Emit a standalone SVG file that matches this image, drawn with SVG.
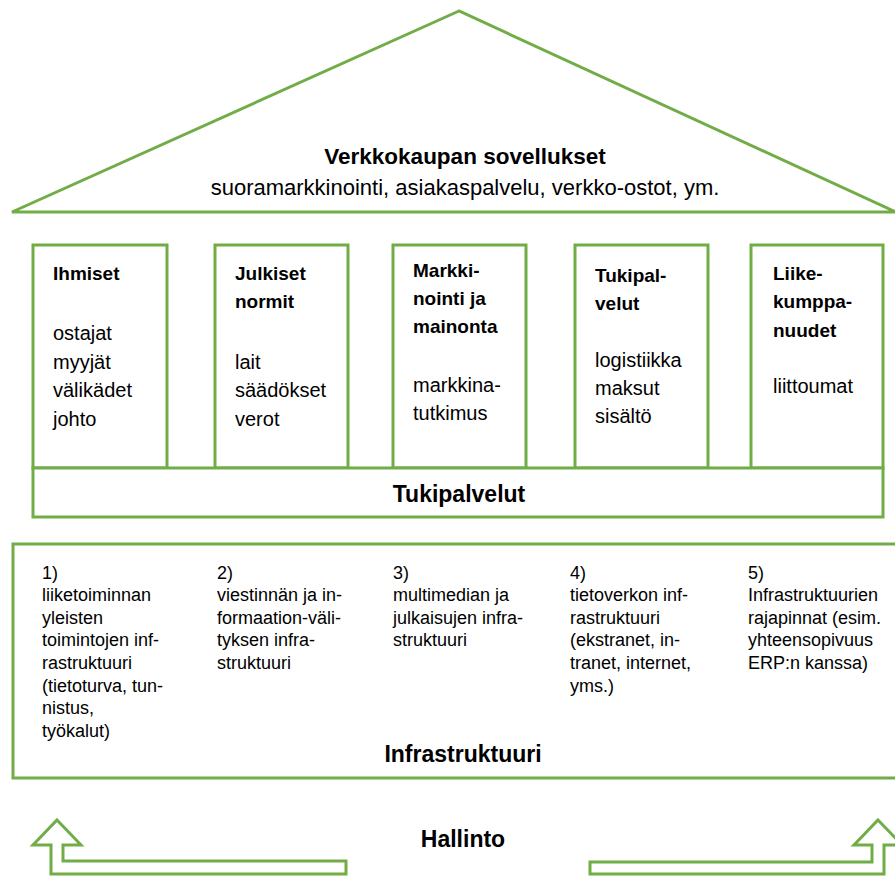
<svg xmlns="http://www.w3.org/2000/svg" width="895" height="876" viewBox="0 0 895 876">
  <style>
    .shape { fill: #ffffff; stroke: #70ad47; stroke-width: 3; stroke-linejoin: miter; }
    .t { font-family: "Liberation Sans", Arial, sans-serif; fill: #000000; }
    .title { font-size: 22.5px; font-weight: bold; }
    .sub { font-size: 22px; }
    .head { font-size: 19px; font-weight: bold; }
    .body { font-size: 20px; }
    .big { font-size: 23px; font-weight: bold; }
    .infra { font-size: 18px; }
  </style>
  <rect width="895" height="876" fill="#ffffff"/>

  <g id="roof">
    <polygon class="shape" points="459,11 12,212 896,212"/>
    <text class="t title" x="465" y="164" text-anchor="middle">Verkkokaupan sovellukset</text>
    <text class="t sub" x="465" y="195" text-anchor="middle">suoramarkkinointi, asiakaspalvelu, verkko-ostot, ym.</text>
  </g>

  <g id="ihmiset">
    <rect class="shape" x="33" y="245" width="134" height="223"/>
    <text class="t head" x="53" y="280">Ihmiset</text>
    <text class="t body" x="53" y="340">ostajat</text>
    <text class="t body" x="53" y="368.5">myyjät</text>
    <text class="t body" x="53" y="397">välikädet</text>
    <text class="t body" x="53" y="425.5">johto</text>
  </g>

  <g id="julkiset-normit">
    <rect class="shape" x="215" y="245" width="133" height="223"/>
    <text class="t head" x="235" y="280">Julkiset</text>
    <text class="t head" x="235" y="308">normit</text>
    <text class="t body" x="235" y="368.5">lait</text>
    <text class="t body" x="235" y="397">säädökset</text>
    <text class="t body" x="235" y="425.5">verot</text>
  </g>

  <g id="markkinointi">
    <rect class="shape" x="393" y="245" width="133" height="223"/>
    <text class="t head" x="413" y="277">Markki-</text>
    <text class="t head" x="413" y="305">nointi ja</text>
    <text class="t head" x="413" y="333">mainonta</text>
    <text class="t body" x="413" y="392">markkina-</text>
    <text class="t body" x="413" y="420">tutkimus</text>
  </g>

  <g id="tukipalvelut-col">
    <rect class="shape" x="575" y="245" width="133" height="223"/>
    <text class="t head" x="595" y="282">Tukipal-</text>
    <text class="t head" x="595" y="310">velut</text>
    <text class="t body" x="595" y="367">logistiikka</text>
    <text class="t body" x="595" y="395">maksut</text>
    <text class="t body" x="595" y="423">sisältö</text>
  </g>

  <g id="liikekumppanuudet">
    <rect class="shape" x="751" y="245" width="132" height="223"/>
    <text class="t head" x="773" y="280">Liike-</text>
    <text class="t head" x="773" y="308">kumppa-</text>
    <text class="t head" x="773" y="337">nuudet</text>
    <text class="t body" x="773" y="393">liittoumat</text>
  </g>

  <g id="tukipalvelut">
    <rect class="shape" x="33" y="468" width="850" height="49"/>
    <text class="t big" x="459" y="502" text-anchor="middle">Tukipalvelut</text>
  </g>

  <g id="infrastruktuuri">
    <rect class="shape" x="13" y="544" width="892" height="234"/>
    <g class="t infra">
      <text x="42" y="579">1)</text>
      <text x="42" y="601">liiketoiminnan</text>
      <text x="42" y="624">yleisten</text>
      <text x="42" y="646">toimintojen inf-</text>
      <text x="42" y="669">rastruktuuri</text>
      <text x="42" y="692">(tietoturva, tun-</text>
      <text x="42" y="714">nistus,</text>
      <text x="42" y="737">työkalut)</text>

      <text x="217" y="579">2)</text>
      <text x="217" y="601">viestinnän ja in-</text>
      <text x="217" y="624">formaation-väli-</text>
      <text x="217" y="646">tyksen infra-</text>
      <text x="217" y="669">struktuuri</text>

      <text x="393" y="579">3)</text>
      <text x="393" y="601">multimedian ja</text>
      <text x="393" y="624">julkaisujen infra-</text>
      <text x="393" y="646">struktuuri</text>

      <text x="570" y="579">4)</text>
      <text x="570" y="601">tietoverkon inf-</text>
      <text x="570" y="624">rastruktuuri</text>
      <text x="570" y="646">(ekstranet, in-</text>
      <text x="570" y="669">tranet, internet,</text>
      <text x="570" y="692">yms.)</text>

      <text x="748" y="579">5)</text>
      <text x="748" y="601">Infrastruktuurien</text>
      <text x="748" y="624">rajapinnat (esim.</text>
      <text x="748" y="646">yhteensopivuus</text>
      <text x="748" y="669">ERP:n kanssa)</text>
    </g>
    <text class="t big" x="463" y="762" text-anchor="middle">Infrastruktuuri</text>
  </g>

  <g id="hallinto">
    <text class="t big" x="463" y="847" text-anchor="middle">Hallinto</text>
  </g>

  <g id="connectors">
    <polygon class="shape" points="57,820 81,845 63,845 63,861 346,861 346,874 51,874 51,845 33,845"/>
    <polygon class="shape" points="878,820 902,845 884,845 884,874 590,874 590,862 872,862 872,845 854,845"/>
  </g>
</svg>
